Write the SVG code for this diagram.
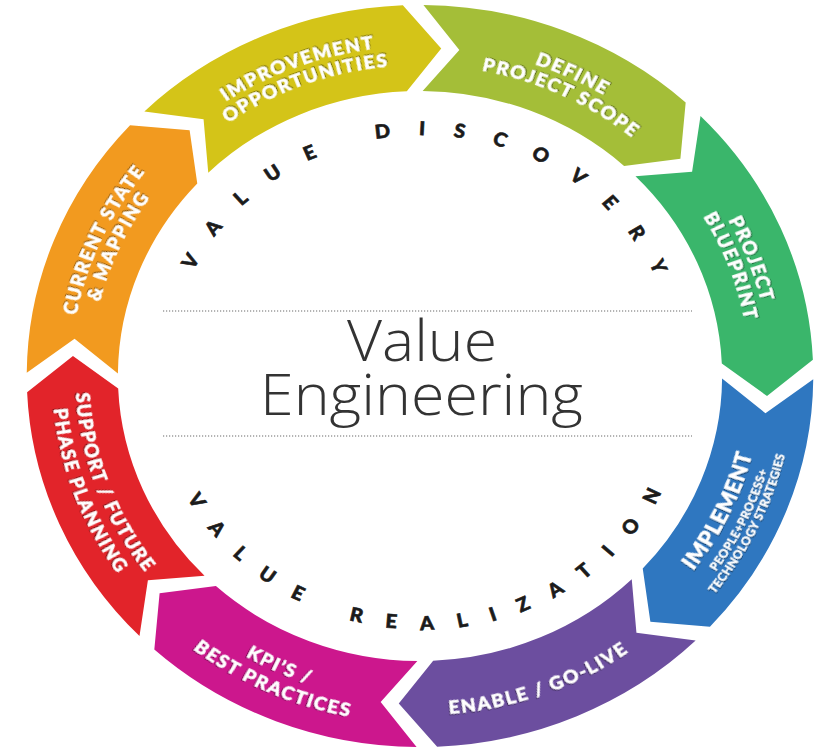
<svg xmlns="http://www.w3.org/2000/svg" width="828" height="749" viewBox="0 0 828 749">
<defs>
<style>
.lbl{font-family:Lato,"Open Sans","Liberation Sans",sans-serif;font-weight:900;font-size:18px;fill:#fff;stroke:#fff;stroke-width:0.5px;letter-spacing:1.6px;text-anchor:middle}
.sm{font-size:11.5px;letter-spacing:0.4px;stroke-width:0.25px}
.big{font-size:21px;letter-spacing:0.8px}
.ring{font-family:Lato,"Liberation Sans",sans-serif;font-weight:900;font-size:19px;fill:#1b1b1b;stroke:#1b1b1b;stroke-width:0.6px;text-anchor:middle}
.title{font-family:"Open Sans","Liberation Sans",sans-serif;font-weight:300;font-size:57px;fill:#333;text-anchor:middle}
.dots{stroke:#6b6b6b;stroke-width:1.2;stroke-dasharray:1.2 1.8;fill:none}
</style>
<filter id="sh" x="-10%" y="-10%" width="120%" height="120%"><feDropShadow dx="0.8" dy="1" stdDeviation="0.7" flood-color="#000" flood-opacity="0.5"/></filter>
<path id="cw330" d="M165,-285.79 A330,330 0 0 1 165,285.79"/>
<path id="cw311" d="M155.5,-269.33 A311,311 0 0 1 155.5,269.33"/>
<path id="ccw325" d="M162.5,281.46 A325,325 0 0 0 162.5,-281.46"/>
<path id="ccw347" d="M173.5,300.51 A347,347 0 0 0 173.5,-300.51"/>
<path id="ccw323" d="M161.5,279.73 A323,323 0 0 0 161.5,-279.73"/>
<path id="ccw341" d="M170.5,295.31 A341,341 0 0 0 170.5,-295.31"/>
<path id="ccw353" d="M176.5,305.71 A353,353 0 0 0 176.5,-305.71"/>
<path id="ccw339" d="M169.5,293.58 A339,339 0 0 0 169.5,-293.58"/>
<path id="cw240" d="M41.76,-236.85 A240.5,240.5 0 0 1 41.76,236.85"/>
<path id="ccw253" d="M44.02,249.65 A253.5,253.5 0 0 0 44.02,-249.65"/>
</defs>
<rect width="828" height="749" fill="#fff"/>
<g transform="translate(420,376) scale(1.06,1)">
<g id="current-state">
<path fill="#f29a1f" d="M-370.99,-3.24 A371,371 0 0 1 -273.53,-250.64 L-217.34,-245.66 L-210.12,-192.54 A285,285 0 0 0 -284.99,-2.49 L-325.89,-37.13 Z"/>
<text class="lbl" filter="url(#sh)" transform="rotate(204.5)"><textPath href="#cw330" startOffset="50%">CURRENT STATE</textPath></text>
<text class="lbl" filter="url(#sh)" transform="rotate(204.5)"><textPath href="#cw311" startOffset="50%">&amp; MAPPING</textPath></text>
</g>
<g id="improvement">
<path fill="#d4c418" d="M-260.04,-264.62 A371,371 0 0 1 -16.18,-370.65 L20.02,-327.39 L-12.43,-284.73 A285,285 0 0 0 -199.76,-203.28 L-204.18,-256.70 Z"/>
<text class="lbl" filter="url(#sh)" transform="rotate(-110.5)"><textPath href="#cw330" startOffset="50%">IMPROVEMENT</textPath></text>
<text class="lbl" filter="url(#sh)" transform="rotate(-110.5)"><textPath href="#cw311" startOffset="50%">OPPORTUNITIES</textPath></text>
</g>
<g id="define-scope">
<path fill="#a4be38" d="M3.24,-370.99 A371,371 0 0 1 250.64,-273.53 L245.66,-217.34 L192.54,-210.12 A285,285 0 0 0 2.49,-284.99 L37.13,-325.89 Z"/>
<text class="lbl" filter="url(#sh)" transform="rotate(-64.5)"><textPath href="#cw330" startOffset="50%">DEFINE</textPath></text>
<text class="lbl" filter="url(#sh)" transform="rotate(-64.5)"><textPath href="#cw311" startOffset="50%">PROJECT SCOPE</textPath></text>
</g>
<g id="blueprint">
<path fill="#3ab66b" d="M264.62,-260.04 A371,371 0 0 1 370.65,-16.18 L327.39,20.02 L284.73,-12.43 A285,285 0 0 0 203.28,-199.76 L256.70,-204.18 Z"/>
<text class="lbl" filter="url(#sh)" transform="rotate(-20.5)"><textPath href="#cw330" startOffset="50%">PROJECT</textPath></text>
<text class="lbl" filter="url(#sh)" transform="rotate(-20.5)"><textPath href="#cw311" startOffset="50%">BLUEPRINT</textPath></text>
</g>
<g id="implement">
<path fill="#2f77c0" d="M370.99,3.24 A371,371 0 0 1 273.53,250.64 L217.34,245.66 L210.12,192.54 A285,285 0 0 0 284.99,2.49 L325.89,37.13 Z"/>
<text class="lbl big" filter="url(#sh)" transform="rotate(25.5)"><textPath href="#ccw323" startOffset="50%">IMPLEMENT</textPath></text>
<text class="lbl sm" filter="url(#sh)" transform="rotate(25.5)"><textPath href="#ccw341" startOffset="50%">PEOPLE+PROCESS+</textPath></text>
<text class="lbl sm" filter="url(#sh)" transform="rotate(25.5)"><textPath href="#ccw353" startOffset="50%">TECHNOLOGY STRATEGIES</textPath></text>
</g>
<g id="enable">
<path fill="#6c4e9f" d="M260.04,264.62 A371,371 0 0 1 16.18,370.65 L-20.02,327.39 L12.43,284.73 A285,285 0 0 0 199.76,203.28 L204.18,256.70 Z"/>
<text class="lbl" filter="url(#sh)" transform="rotate(69.8)"><textPath href="#ccw339" startOffset="50%">ENABLE / GO-LIVE</textPath></text>
</g>
<g id="kpis">
<path fill="#cc178d" d="M-3.24,370.99 A371,371 0 0 1 -250.64,273.53 L-245.66,217.34 L-192.54,210.12 A285,285 0 0 0 -2.49,284.99 L-37.13,325.89 Z"/>
<text class="lbl" filter="url(#sh)" transform="rotate(114.5)"><textPath href="#ccw325" startOffset="50%">KPI’S /</textPath></text>
<text class="lbl" filter="url(#sh)" transform="rotate(114.5)"><textPath href="#ccw347" startOffset="50%">BEST PRACTICES</textPath></text>
</g>
<g id="support">
<path fill="#e2242a" d="M-264.62,260.04 A371,371 0 0 1 -370.65,16.18 L-327.39,-20.02 L-284.73,12.43 A285,285 0 0 0 -203.28,199.76 L-256.70,204.18 Z"/>
<text class="lbl" filter="url(#sh)" transform="rotate(159.8)"><textPath href="#ccw325" startOffset="50%">SUPPORT / FUTURE</textPath></text>
<text class="lbl" filter="url(#sh)" transform="rotate(159.8)"><textPath href="#ccw347" startOffset="50%">PHASE PLANNING</textPath></text>
</g>
</g>
<g id="phases" transform="translate(423,376) scale(1.06,1)">
<text class="ring" style="letter-spacing:26.5px" transform="rotate(-86.3)"><textPath href="#cw240" startOffset="50%">VALUE DISCOVERY</textPath></text>
<text class="ring" style="letter-spacing:22.5px" transform="rotate(86.7)"><textPath href="#ccw253" startOffset="50%">VALUE REALIZATION</textPath></text>
</g>
<g id="center">
<line class="dots" x1="163" y1="311" x2="692" y2="311"/>
<line class="dots" x1="163" y1="436" x2="692" y2="436"/>
<text class="title" x="422" y="361" textLength="150" lengthAdjust="spacingAndGlyphs">Value</text>
<text class="title" x="421.5" y="415" textLength="323" lengthAdjust="spacingAndGlyphs">Engineering</text>
</g>
</svg>
